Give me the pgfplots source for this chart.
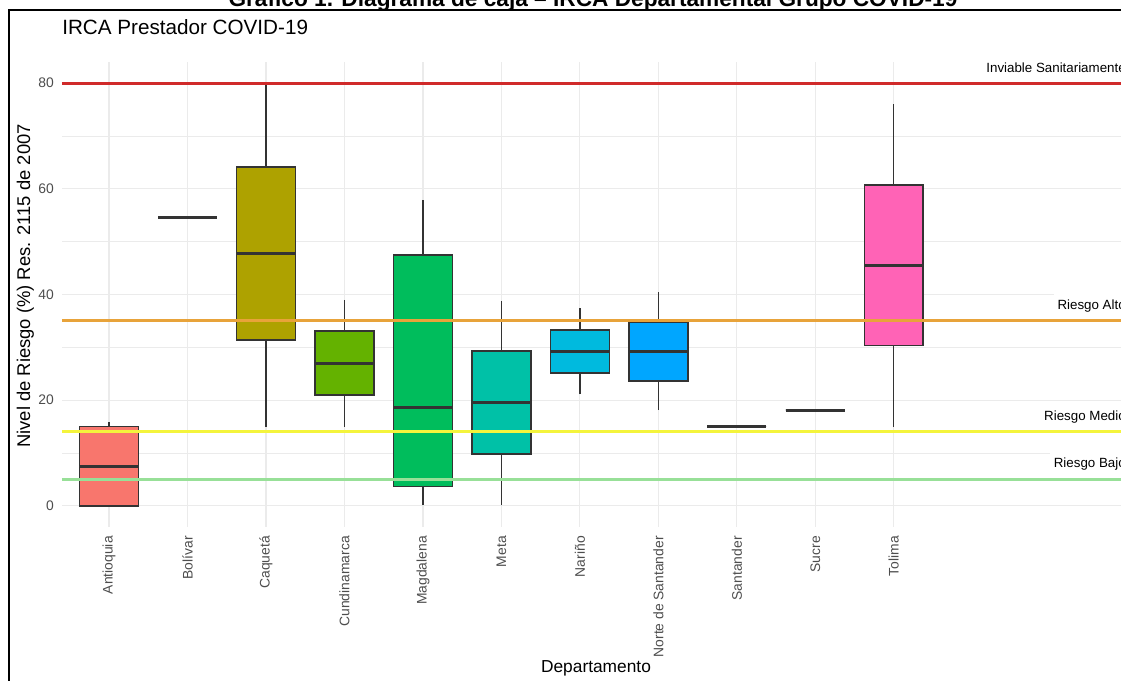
\documentclass[border=0pt]{standalone}
\usepackage{fontspec}
\setmainfont{Liberation Sans}
\usepackage{pgfplots}
\pgfplotsset{compat=1.18}
\usepgfplotslibrary{statistics}
\definecolor{gridc}{HTML}{EBEBEB}
\definecolor{tickc}{HTML}{4D4D4D}
\definecolor{boxc}{HTML}{333333}
\definecolor{cA}{HTML}{F8766D}
\definecolor{cB}{HTML}{DB8E00}
\definecolor{cC}{HTML}{AEA200}
\definecolor{cD}{HTML}{64B200}
\definecolor{cE}{HTML}{00BD5C}
\definecolor{cF}{HTML}{00C1A7}
\definecolor{cG}{HTML}{00BADE}
\definecolor{cH}{HTML}{00A6FF}
\definecolor{cI}{HTML}{B385FF}
\definecolor{cJ}{HTML}{EF67EB}
\definecolor{cK}{HTML}{FF63B6}
\definecolor{lRed}{HTML}{D02A2A}
\definecolor{lOrange}{HTML}{E8A33A}
\definecolor{lYellow}{HTML}{F4F43C}
\definecolor{lGreen}{HTML}{98E098}
\begin{document}
\begin{tikzpicture}
\begin{axis}[
  at={(0,0)}, anchor=south west, scale only axis,
  width=798pt, height=348.75pt,
  xmin=0.4, xmax=13.96, ymin=-4, ymax=84,
  xtick={1,2,3,4,5,6,7,8,9,10,11},
  xticklabels={Antioquia,Bolívar,Caquetá,Cundinamarca,Magdalena,Meta,Nariño,Norte de Santander,Santander,Sucre,Tolima},
  ytick={0,20,40,60,80}, minor ytick={10,30,50,70},
  xmajorgrids, ymajorgrids, yminorgrids,
  major grid style={color=gridc, line width=0.9pt},
  minor grid style={color=gridc, line width=0.5pt},
  axis line style={draw=none},
  major tick length=0pt, minor tick length=0pt,
  tick label style={color=tickc, font=\fontsize{10.4}{12}\selectfont},
  xticklabel style={rotate=90, anchor=east, inner sep=0pt},
  yticklabel style={anchor=east, inner sep=0pt},
  xticklabel shift=6.75pt, yticklabel shift=6pt,
  /pgf/number format/assume math mode=true,
  clip=false,
  boxplot/draw direction=y,
  boxplot/box extend=0.75,
  boxplot/whisker extend=0,
  boxplot/every median/.style={line width=2.2pt},
]
\addplot[draw=boxc, line width=1.1pt, fill=cA, boxplot prepared={lower whisker=0, lower quartile=0, median=7.4, upper quartile=15.0, upper whisker=15.9, draw position=1}] coordinates {};
\addplot[draw=boxc, line width=1.1pt, fill=cB, boxplot prepared={lower whisker=54.5, lower quartile=54.5, median=54.5, upper quartile=54.5, upper whisker=54.5, draw position=2}] coordinates {};
\addplot[draw=boxc, line width=1.1pt, fill=cC, boxplot prepared={lower whisker=14.9, lower quartile=31.4, median=47.7, upper quartile=64.1, upper whisker=80.0, draw position=3}] coordinates {};
\addplot[draw=boxc, line width=1.1pt, fill=cD, boxplot prepared={lower whisker=15.0, lower quartile=21.0, median=27.0, upper quartile=33.1, upper whisker=39.0, draw position=4}] coordinates {};
\addplot[draw=boxc, line width=1.1pt, fill=cE, boxplot prepared={lower whisker=0.1, lower quartile=3.7, median=18.6, upper quartile=47.5, upper whisker=57.9, draw position=5}] coordinates {};
\addplot[draw=boxc, line width=1.1pt, fill=cF, boxplot prepared={lower whisker=0.1, lower quartile=9.8, median=19.5, upper quartile=29.3, upper whisker=38.8, draw position=6}] coordinates {};
\addplot[draw=boxc, line width=1.1pt, fill=cG, boxplot prepared={lower whisker=21.1, lower quartile=25.1, median=29.3, upper quartile=33.3, upper whisker=37.4, draw position=7}] coordinates {};
\addplot[draw=boxc, line width=1.1pt, fill=cH, boxplot prepared={lower whisker=18.1, lower quartile=23.6, median=29.3, upper quartile=34.7, upper whisker=40.4, draw position=8}] coordinates {};
\addplot[draw=boxc, line width=1.1pt, fill=cI, boxplot prepared={lower whisker=15.0, lower quartile=15.0, median=15.0, upper quartile=15.0, upper whisker=15.0, draw position=9}] coordinates {};
\addplot[draw=boxc, line width=1.1pt, fill=cJ, boxplot prepared={lower whisker=18.1, lower quartile=18.1, median=18.1, upper quartile=18.1, upper whisker=18.1, draw position=10}] coordinates {};
\addplot[draw=boxc, line width=1.1pt, fill=cK, boxplot prepared={lower whisker=14.9, lower quartile=30.3, median=45.4, upper quartile=60.7, upper whisker=76.0, draw position=11}] coordinates {};
% threshold labels
\node[anchor=east, fill=white, inner xsep=3pt, inner ysep=4pt, xshift=3pt, font=\fontsize{10}{12}\selectfont] at (axis cs:13.96,82.85) {Inviable Sanitariamente};
\node[anchor=east, fill=white, inner xsep=3pt, inner ysep=4.5pt, xshift=3pt, font=\fontsize{10}{12}\selectfont] at (axis cs:13.96,37.85) {Riesgo Alto};
\node[anchor=east, fill=white, inner xsep=3pt, inner ysep=4.5pt, xshift=3pt, font=\fontsize{10}{12}\selectfont] at (axis cs:13.96,16.85) {Riesgo Medio};
\node[anchor=east, fill=white, inner xsep=3pt, inner ysep=4.5pt, xshift=3pt, font=\fontsize{10}{12}\selectfont] at (axis cs:13.96,7.85) {Riesgo Bajo};
% threshold lines
\addplot[draw=lRed, line width=2.2pt] coordinates {(0.4,80) (13.96,80)};
\addplot[draw=lOrange, line width=2.2pt] coordinates {(0.4,35) (13.96,35)};
\addplot[draw=lYellow, line width=2.2pt] coordinates {(0.4,14) (13.96,14)};
\addplot[draw=lGreen, line width=2.2pt] coordinates {(0.4,5) (13.96,5)};
\end{axis}
\node[rotate=90, font=\fontsize{13.8}{16}\selectfont] at (-27.5pt,180.75pt) {Nivel de Riesgo (\%) Res. 2115 de 2007};
\node[font=\fontsize{13}{15}\selectfont] at (400.5pt,-105.75pt) {Departamento};
\node[anchor=west, inner sep=0pt, font=\fontsize{15.5}{18}\selectfont] at (0pt,375pt) {IRCA Prestador COVID-19};
\draw[line width=1.2pt] (-39.75pt,-122.25pt) rectangle (801pt,387.75pt);
\node[anchor=base, inner sep=0pt, font=\bfseries\fontsize{17}{20}\selectfont] at (398.25pt,390pt) {Gráfico 1. Diagrama de caja – IRCA Departamental Grupo COVID-19};
\pgfresetboundingbox
\useasboundingbox (-46.5pt,-115.5pt) rectangle (794.25pt,395.25pt);
\end{tikzpicture}
\end{document}
